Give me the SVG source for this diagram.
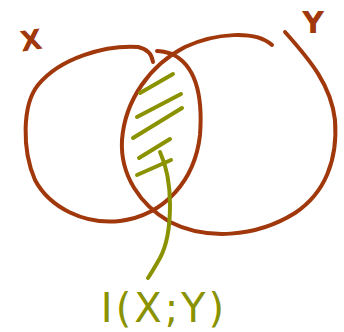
<svg xmlns="http://www.w3.org/2000/svg" width="344" height="332" viewBox="0 0 344 332">
<style>
.set{fill:none;stroke:#a0380c;stroke-width:4;stroke-linecap:round;stroke-linejoin:round}
.hatch{fill:none;stroke:#8a9200;stroke-width:4;stroke-linecap:round;stroke-linejoin:round}
.lblA{font-family:"DejaVu Sans",sans-serif;fill:#a0380c;font-weight:bold}
.lblB{font-family:"DejaVu Sans",sans-serif;fill:#8a9200}
</style>
<rect width="344" height="332" fill="#ffffff"/>
<g id="X">
<path class="set" d="M153,62 C152,55 148,49 138,47 C105,45 60,58 38,85 C22,105 22,150 35,180 C50,208 85,225 120,221 C165,215 195,180 200,135 C203,95 195,65 172,54 C166,52 161,51 157,51"/>
<text class="lblA" x="31" y="50" font-size="28" text-anchor="middle" transform="rotate(-8 31 40)">X</text>
</g>
<g id="Y">
<path class="set" d="M272,45 C255,30 215,33 185,47 C150,65 125,100 122,140 C120,175 140,205 170,222 C205,240 255,238 295,213 C325,193 338,160 335,120 C331,85 310,60 285,32"/>
<text class="lblA" x="313" y="33" font-size="30" text-anchor="middle">Y</text>
</g>
<g id="intersection">
<path class="hatch" d="M140,93 L173,74"/>
<path class="hatch" d="M137,117 L181,94"/>
<path class="hatch" d="M133,138 L182,108"/>
<path class="hatch" d="M139,158 L170,139"/>
<path class="hatch" d="M137,175 L171,160"/>
<text class="lblB" x="164" y="322" font-size="40" text-anchor="middle" letter-spacing="3">I(X;Y)</text>
</g>
<g id="connectors">
<path class="hatch" d="M160,152 C166,165 170,185 170,205 C170,225 167,245 160,258 C156,265 152,272 148,278"/>
</g>
</svg>
